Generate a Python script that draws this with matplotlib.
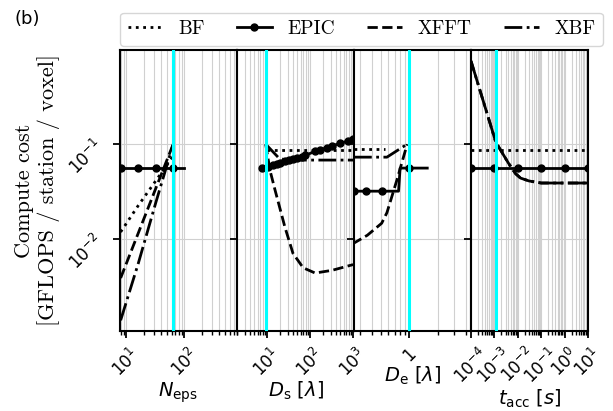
import matplotlib
matplotlib.use("Agg")
import matplotlib.pyplot as plt
from matplotlib.ticker import NullLocator, NullFormatter, FixedLocator, FixedFormatter, LogLocator

# ---------------- data ----------------
# Panel 1: N_eps
neps_epic = [8, 16, 32, 64, 100]
epic1 = [0.056, 0.056, 0.056, 0.056, 0.056]
neps_bf = [8, 16, 32, 64]
bf1 = [0.0119, 0.0225, 0.041, 0.075]
neps_xfft = [8, 16, 32, 64]
xfft1 = [0.0039, 0.0115, 0.034, 0.1]
neps_xbf = [8, 16, 32, 64]
xbf1 = [0.0014, 0.0055, 0.024, 0.1]
neps_ref = 64

# Panel 2: D_s
ds_epic = [7.7, 10.5, 13.8, 17, 20, 26, 33, 40, 50, 65, 76, 131, 171, 250, 325, 500, 760, 1000]
epic2 = [0.056, 0.058, 0.060, 0.062, 0.063, 0.066, 0.068, 0.070, 0.072, 0.074, 0.076,
         0.084, 0.087, 0.092, 0.096, 0.102, 0.108, 0.112]
ds_bf = [10, 1000]
bf2 = [0.086, 0.086]
ds_xfft = [9.3, 11.7, 15.3, 26, 40, 69, 131, 325, 1000]
xfft2 = [0.1, 0.053, 0.033, 0.0134, 0.0071, 0.005, 0.0044, 0.0047, 0.0054]
ds_xbf = [9.3, 18, 26, 1000]
xbf2 = [0.1, 0.073, 0.068, 0.068]
ds_ref = 9.3

# Panel 3: D_e
de_epic = [0.26, 0.35, 0.52, 0.77, 0.80, 1.0, 1.55]
epic3 = [0.032, 0.032, 0.032, 0.032, 0.056, 0.056, 0.056]
de_bf = [0.26, 0.55]
bf3 = [0.088, 0.088]
de_xfft = [0.25, 0.36, 0.51, 0.58, 0.74, 0.95]
xfft3 = [0.0089, 0.011, 0.0147, 0.019, 0.042, 0.1]
de_xbf = [0.26, 0.58, 0.95]
xbf3 = [0.073, 0.073, 0.1]
de_ref = 1.0

# Panel 4: t_acc
tacc_epic = [1e-4, 1e-3, 1e-2, 1e-1, 1, 10]
epic4 = [0.056, 0.056, 0.056, 0.056, 0.056, 0.056]
tacc_bf = [1e-4, 10]
bf4 = [0.086, 0.086]
tacc_x = [1e-4, 1.15e-3, 4e-3, 8e-3, 1.3e-2, 3e-2, 0.1, 1, 10]
xfft4 = [0.75, 0.105, 0.063, 0.049, 0.044, 0.041, 0.039, 0.039, 0.039]
xbf4 = [0.75, 0.105, 0.063, 0.049, 0.044, 0.041, 0.039, 0.039, 0.039]
tacc_ref = 1.15e-3

xlabels = [r"$N_{\rm eps}$", r"$D_{\rm s}$ [$\lambda$]", r"$D_{\rm e}$ [$\lambda$]", r"$t_{\rm acc}$ [$s$]"]
xlims = [(7.8, 800), (2.0, 1050), (0.26, 4.5), (1e-4, 10)]
labels = ["BF", "EPIC", "XFFT", "XBF"]

panels = [
    (neps_bf, bf1, neps_epic, epic1, [0, 1, 2, 3], neps_xfft, xfft1, neps_xbf, xbf1, neps_ref),
    (ds_bf, bf2, ds_epic, epic2, None, ds_xfft, xfft2, ds_xbf, xbf2, ds_ref),
    (de_bf, bf3, de_epic, epic3, [0, 1, 2, 5], de_xfft, xfft3, de_xbf, xbf3, de_ref),
    (tacc_bf, bf4, tacc_epic, epic4, None, tacc_x, xfft4, tacc_x, xbf4, tacc_ref),
]

fig = plt.figure(figsize=(6.13, 4.11), dpi=100)
axes = fig.subplots(1, 4, sharey=True)
fig.subplots_adjust(left=120/613, right=588/613, top=1-50/411, bottom=1-331/411, wspace=0)

handles = None
for i, (ax, p) in enumerate(zip(axes, panels)):
    xb, yb, xe, ye, me, xf, yf, xx, yx, ref = p
    ax.set_xscale("log")
    ax.set_yscale("log")
    h1, = ax.plot(xb, yb, color="k", ls=":", lw=2)
    h2, = ax.plot(xe, ye, color="k", ls="-", lw=2, marker="o", ms=5, markevery=me)
    h3, = ax.plot(xf, yf, color="k", ls="--", lw=2)
    h4, = ax.plot(xx, yx, color="k", ls="-.", lw=2)
    if i == 0:
        handles = [h1, h2, h3, h4]
    ax.axvline(ref, color="cyan", lw=2.2, zorder=5)
    ax.set_xlim(*xlims[i])
    ax.set_ylim(1.08e-3, 0.98)
    ax.yaxis.set_minor_locator(NullLocator())
    if i != 2:
        ax.xaxis.set_major_locator(LogLocator(base=10, numticks=30))
        ax.xaxis.set_minor_locator(LogLocator(base=10, subs=[2, 3, 4, 5, 6, 7, 8, 9], numticks=30))
        ax.xaxis.set_minor_formatter(NullFormatter())
    ax.grid(True, which="both", axis="x", color="#d0d0d0", lw=0.8)
    ax.grid(True, which="major", axis="y", color="#d0d0d0", lw=0.8)
    ax.set_axisbelow(True)
    ax.tick_params(axis="both", which="major", length=5, width=1.3, labelsize=12, direction="out")
    ax.tick_params(axis="x", which="minor", length=3, width=1.0, direction="out")
    ax.tick_params(axis="x", which="both", labelrotation=45, pad=5)
    ax.tick_params(axis="y", which="major", labelrotation=45, pad=4)
    for s in ax.spines.values():
        s.set_linewidth(1.5)
    ax.set_xlabel(xlabels[i], fontsize=14, labelpad=0)
    if i == 2:
        ax.xaxis.set_major_locator(FixedLocator([1.0]))
        ax.xaxis.set_major_formatter(FixedFormatter(["1"]))
        ax.xaxis.set_minor_formatter(NullFormatter())

axes[0].set_ylabel("Compute cost\n[GFLOPS / station / voxel]", fontfamily="cmr10", fontsize=16, labelpad=4)

fig.legend(handles, labels, loc="lower left",
           bbox_to_anchor=(120/613, 1-46/411, 483/613, 0.05), mode="expand", ncol=4,
           prop={"family": "cmr10", "size": 14}, handlelength=1.8, borderaxespad=0)

fig.text(14/613, 1-10/411, "(b)", fontsize=13, va="top", ha="left")

fig.savefig("out.png", dpi=100)
